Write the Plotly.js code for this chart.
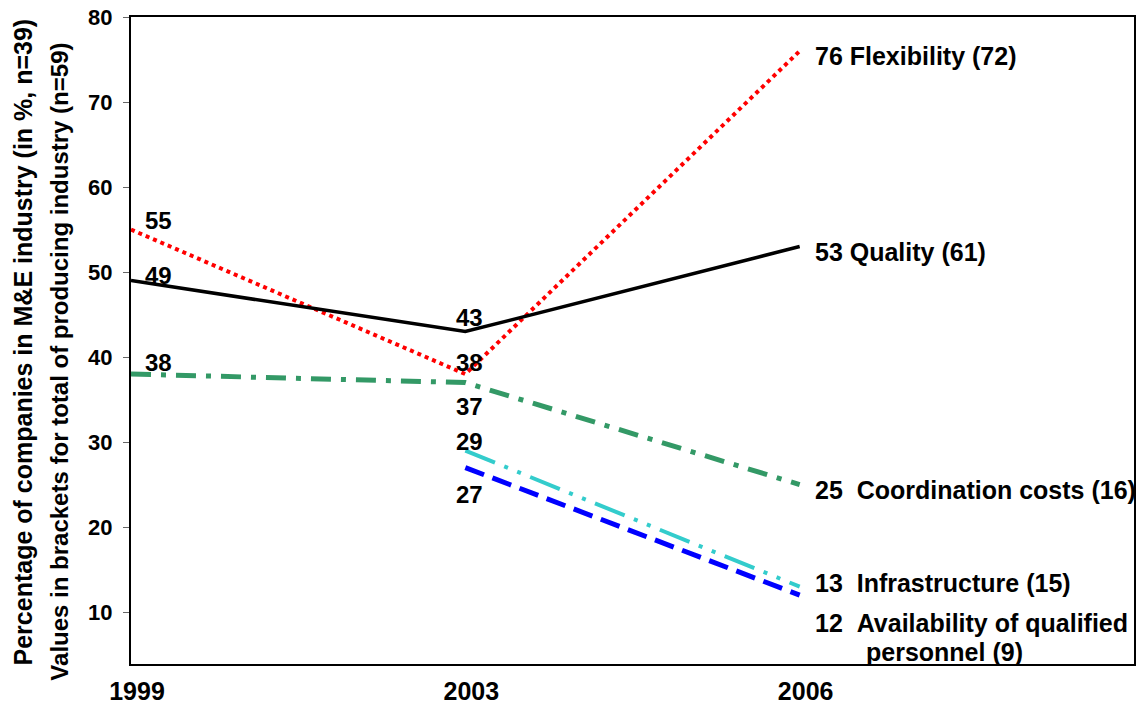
<!DOCTYPE html>
<html>
<head>
<meta charset="utf-8">
<script src="https://cdn.plot.ly/plotly-3.0.1.min.js"></script>
<style>
  html, body { margin: 0; padding: 0; background: #fff; }
  #chart { width: 1144px; height: 708px; }
</style>
</head>
<body>
<div id="chart"></div>
<script>
// ---- data ----
const years = ['1999', '2003', '2006'];
const flexibility = [55, 38, 76];
const quality = [49, 43, 53];
const coordinationCosts = [38, 37, 25];
const infrastructure = [null, 29, 13];
const qualifiedPersonnel = [null, 27, 12];
const seriesNames = ['Flexibility', 'Quality', 'Coordination costs', 'Infrastructure', 'Availability of qualified|personnel'];
const producingIndustry = [72, 61, 16, 15, 9];
const yTitleLines = [
  'Percentage of companies in M&E industry (in %, n=39)',
  'Values in brackets for total of producing industry (n=59)'
];
const yTicks = [10, 20, 30, 40, 50, 60, 70, 80];

// ---- styling ----
const FONT = 'Liberation Sans, Arial, Helvetica, sans-serif';
const series = [flexibility, quality, coordinationCosts, infrastructure, qualifiedPersonnel];
const lineStyles = [
  { color: '#FF0000', width: 4, dash: 'dot' },
  { color: '#000000', width: 3.5, dash: 'solid' },
  { color: '#339966', width: 5, dash: '20px,10px,5px,10px' },
  { color: '#33CCCC', width: 4, dash: '32px,10px,4px,10px,4px,10px' },
  { color: '#0000FF', width: 5, dash: '20px,9px' }
];
// label offsets (px) for the 1999 and 2003 value labels
const valueShifts = [
  [[27, 9], [4, 12]],
  [[27, 5], [4, 14]],
  [[27, 12], [4, -24]],
  [null, [4, 9]],
  [null, [4, -27]]
];
const endShiftY = [-4.5, -5, -5, 3.6, -28];

const traces = series.map((vals, i) => ({
  x: years,
  y: vals,
  type: 'scatter',
  mode: 'lines',
  connectgaps: false,
  line: lineStyles[i],
  hoverinfo: 'skip'
}));

const annotations = [];
const labelFont = { family: FONT, size: 24, color: '#000', weight: 'bold' };
const endFont = { family: FONT, size: 25, color: '#000', weight: 'bold' };
const lastIdx = years.length - 1;

series.forEach((vals, i) => {
  for (let j = 0; j < 2; j++) {
    if (vals[j] === null || !valueShifts[i][j]) continue;
    annotations.push({
      x: j, y: vals[j], xref: 'x', yref: 'y',
      text: String(vals[j]), showarrow: false,
      xanchor: 'center', yanchor: 'middle',
      xshift: valueShifts[i][j][0], yshift: valueShifts[i][j][1],
      font: labelFont
    });
  }
  const last = vals[lastIdx];
  const parts = seriesNames[i].split('|');
  const sep = i >= 2 ? '\u00A0\u00A0' : ' ';
  annotations.push({
    x: lastIdx, y: last, xref: 'x', yref: 'y',
    text: last + sep + parts[0] + (parts.length === 1 ? ' (' + producingIndustry[i] + ')' : ''),
    showarrow: false, xanchor: 'left', yanchor: 'middle',
    xshift: 13, yshift: endShiftY[i], font: endFont
  });
  if (parts.length > 1) {
    annotations.push({
      x: lastIdx, y: last, xref: 'x', yref: 'y',
      text: parts[1] + ' (' + producingIndustry[i] + ')',
      showarrow: false, xanchor: 'left', yanchor: 'middle',
      xshift: 64, yshift: endShiftY[i] - 29, font: endFont
    });
  }
});

// y-axis title lines as rotated annotations
const yTitleX = [-0.108, -0.071];
const yTitleY = [0.498, 0.467];
const yTitleSize = [25, 24];
yTitleLines.forEach((t, k) => {
  annotations.push({
    x: yTitleX[k], y: yTitleY[k], xref: 'paper', yref: 'paper',
    text: t, showarrow: false, textangle: -90,
    xanchor: 'center', yanchor: 'middle',
    font: { family: FONT, size: yTitleSize[k], color: '#000', weight: 'bold' }
  });
});

const layout = {
  width: 1144, height: 708,
  margin: { l: 131, r: 10, t: 17, b: 44, pad: 0 },
  paper_bgcolor: '#fff', plot_bgcolor: '#fff',
  showlegend: false,
  hovermode: false,
  xaxis: {
    type: 'category',
    range: [0, 3],
    showgrid: false, zeroline: false,
    showline: true, linecolor: '#000', linewidth: 2, mirror: true,
    ticks: '', ticklabelstandoff: 4, ticklabelshift: 6,
    tickfont: { family: FONT, size: 25, color: '#000', weight: 'bold' }
  },
  yaxis: {
    range: [3.9, 80],
    tickvals: yTicks,
    showgrid: false, zeroline: false,
    showline: true, linecolor: '#000', linewidth: 2, mirror: true,
    ticks: 'outside', ticklen: 6, tickwidth: 1, tickcolor: '#666',
    ticklabelstandoff: 6,
    tickfont: { family: FONT, size: 22, color: '#000', weight: 'bold' }
  },
  annotations: annotations
};

Plotly.newPlot('chart', traces, layout, { displayModeBar: false, staticPlot: true });
</script>
</body>
</html>
